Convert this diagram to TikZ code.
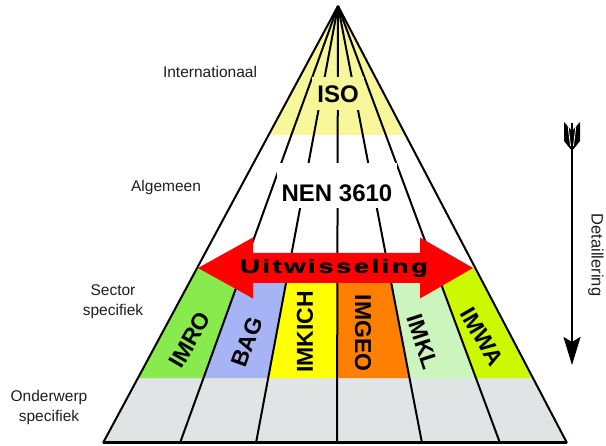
\documentclass[tikz,border=0pt]{standalone}
\usepackage{fontspec}
\setmainfont{Liberation Sans}
\newfontfamily\widefont{Liberation Sans}[FakeStretch=1.45,LetterSpace=13,FakeBold=1.2]
\usepackage{tikz}
\usetikzlibrary{arrows.meta,calc}
\definecolor{ISOyellow}{RGB}{247,247,154}
\definecolor{IMROgreen}{RGB}{136,234,76}
\definecolor{BAGblue}{RGB}{166,180,246}
\definecolor{KICHyellow}{RGB}{255,255,0}
\definecolor{GEOorange}{RGB}{255,128,0}
\definecolor{KLgreen}{RGB}{204,245,190}
\definecolor{WAgreen}{RGB}{204,248,0}
\definecolor{baseGrey}{RGB}{224,228,228}
\definecolor{labelGrey}{RGB}{30,30,30}

\begin{document}
\begin{tikzpicture}[x=1pt,y=-1pt, every node/.style={font=\fontsize{15.5}{20}\selectfont,text=labelGrey}, lvl/.style={align=center}, std/.style={font=\bfseries\fontsize{24}{24}\selectfont,text=black,inner sep=2pt,inner xsep=5pt}, sect/.style={font=\bfseries\fontsize{23}{23}\selectfont,text=black,inner sep=0pt}, spoke/.style={line width=2pt,black}]
\useasboundingbox (0,0) rectangle (606,446);
% pyramid
\coordinate (apex) at (338,6);
\foreach \x [count=\i from 0] in {103,180,256,337,422,500,567}
  \coordinate (b\i) at (\x,443);
% bands
\fill[ISOyellow] (apex) -- ($(apex)!0.2952!(b0)$) -- ($(apex)!0.2952!(b6)$) -- cycle;
\fill[baseGrey] ($(apex)!0.8513!(b0)$) -- ($(apex)!0.8513!(b6)$) -- (b6) -- (b0) -- cycle;
\foreach \c [count=\i from 0] in {IMROgreen,BAGblue,KICHyellow,GEOorange,KLgreen,WAgreen}{
  \pgfmathtruncatemacro\j{\i+1}
  \fill[\c] ($(apex)!0.5995!(b\i)$) -- ($(apex)!0.5995!(b\j)$) -- ($(apex)!0.8513!(b\j)$) -- ($(apex)!0.8513!(b\i)$) -- cycle;
}
\foreach \i in {0,...,6} \draw[spoke] (apex) -- (b\i);
\draw[line width=3pt] (b0) -- (b6);
% levels
\node[std,fill=ISOyellow,text height=24pt,text depth=5pt] (iso) at (338,93.5) {ISO};
\node[std,fill=white,text height=37pt,text depth=4pt] (nen) at (337,185.5) {NEN 3610};
% exchange arrow
\fill[red] (198,268) -- (253,237.5) -- (253,253) -- (420,253) -- (420,237.5) -- (473,268) -- (420,298.5) -- (420,283) -- (253,283) -- (253,298.5) -- cycle;
\node[font=\widefont\bfseries\fontsize{19}{19}\selectfont,text=black] (uit) at (334,268) {Uitwisseling};
% sectors
\node[sect,rotate=60] (imro) at (190,340) {IMRO};
\node[sect,rotate=70] (bag) at (247,342) {BAG};
\node[sect,rotate=90] (imkich) at (305,332) {IMKICH};
\node[sect,rotate=-90] (imgeo) at (363,333) {IMGEO};
\node[sect,rotate=-72] (imkl) at (423,342) {IMKL};
\node[sect,rotate=-60] (imwa) at (482,337) {IMWA};
% labels
\node[lvl] (intl) at (210,72) {Internationaal};
\node[lvl] (alg) at (166,187) {Algemeen};
\node[lvl] (sector) at (113,302) {Sector\\specifiek};
\node[lvl] (onder) at (49,407) {Onderwerp\\specifiek};
% detail arrow
\coordinate (dtop) at (572,123);
\coordinate (dbot) at (572,365);
\draw[line width=2pt,-{Stealth[length=28pt,width=17pt,inset=5pt]}] (dtop) -- (dbot);
\fill (564,122) -- (572,131) -- (580,122) -- (580,141) -- (572,151) -- (564,141) -- cycle;
\draw[white,line width=0.8pt] (568,125) -- (570.5,146) (576,125) -- (573.5,146);
\node[rotate=-90,font=\fontsize{16.5}{16.5}\selectfont] (det) at (596,255) {Detaillering};
\end{tikzpicture}
\end{document}
